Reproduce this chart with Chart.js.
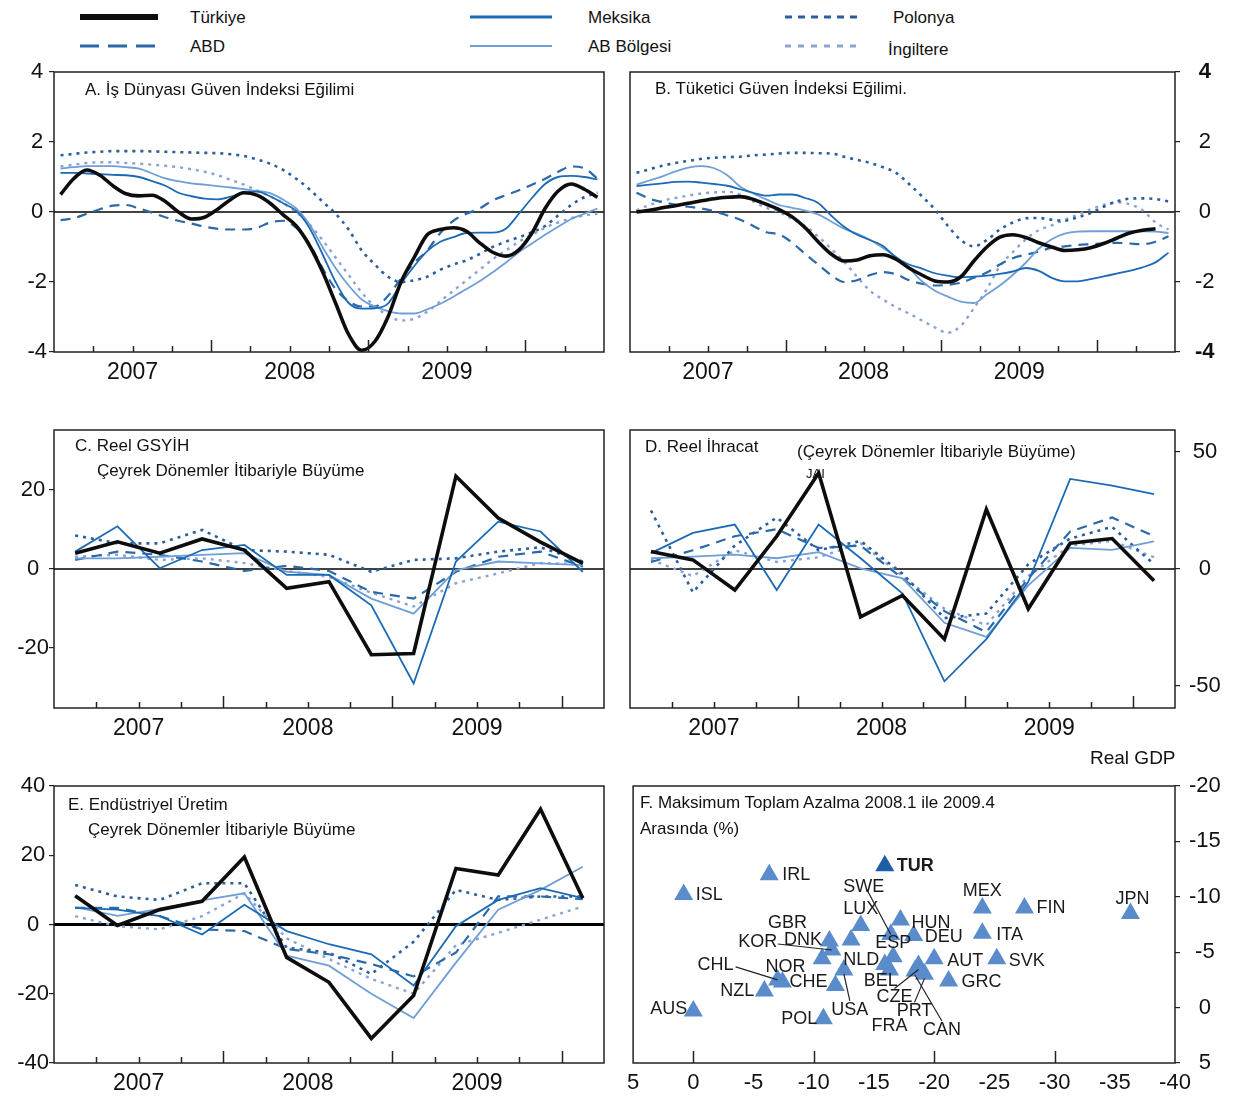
<!DOCTYPE html>
<html lang="tr">
<head>
<meta charset="utf-8">
<title>Güven endeksleri ve büyüme</title>
<script src="https://cdn.jsdelivr.net/npm/chart.js@4.4.1/dist/chart.umd.min.js"></script>
<style>
  body { margin: 0; background: #fff; font-family: "Liberation Sans", Arial, sans-serif; color: #111; }
  #page { position: relative; width: 1249px; height: 1097px; overflow: hidden; }
  .panel { position: absolute; }
  .txt { position: absolute; font-size: 17px; white-space: nowrap; line-height: 1; color: #111; }
  svg text { font-family: "Liberation Sans", Arial, sans-serif; font-size: 17px; fill: #111; }
</style>
</head>
<body>
<div id="page">
  <svg width="1249" height="62" style="position:absolute;left:0;top:0">
    <line x1="80" y1="17" x2="158" y2="17" stroke="#0d0d0d" stroke-width="6"/>
    <text x="190" y="23">Türkiye</text>
    <line x1="80" y1="46" x2="156" y2="46" stroke="#2b69a8" stroke-width="3" stroke-dasharray="19 9"/>
    <text x="190" y="52">ABD</text>
    <line x1="470" y1="17" x2="552" y2="17" stroke="#1b6ab3" stroke-width="3"/>
    <text x="588" y="23">Meksika</text>
    <line x1="470" y1="46" x2="552" y2="46" stroke="#6f9fd6" stroke-width="2.2"/>
    <text x="588" y="52">AB Bölgesi</text>
    <line x1="785" y1="17" x2="862" y2="17" stroke="#2c5e9c" stroke-width="3" stroke-dasharray="7 6"/>
    <text x="893" y="23">Polonya</text>
    <line x1="785" y1="46" x2="862" y2="46" stroke="#8aa3d2" stroke-width="3" stroke-dasharray="6 7"/>
    <text x="888" y="55">İngiltere</text>
  </svg>

  <div class="panel" style="left:0;top:55px"><canvas id="chA" width="620" height="340"></canvas></div>
  <div class="panel" style="left:620px;top:55px"><canvas id="chB" width="629" height="340"></canvas></div>
  <div class="panel" style="left:0;top:415px"><canvas id="chC" width="620" height="340"></canvas></div>
  <div class="panel" style="left:620px;top:415px"><canvas id="chD" width="629" height="340"></canvas></div>
  <div class="panel" style="left:0;top:770px"><canvas id="chE" width="620" height="327"></canvas></div>
  <div class="panel" style="left:620px;top:770px"><canvas id="chF" width="629" height="327"></canvas></div>

  <div class="txt" style="left:85px;top:81px">A. İş Dünyası Güven İndeksi Eğilimi</div>
  <div class="txt" style="left:655px;top:80px">B. Tüketici Güven İndeksi Eğilimi.</div>
  <div class="txt" style="left:75px;top:437px">C. Reel GSYİH</div>
  <div class="txt" style="left:97px;top:462px">Çeyrek Dönemler İtibariyle Büyüme</div>
  <div class="txt" style="left:645px;top:438px">D. Reel İhracat</div>
  <div class="txt" style="left:797px;top:443px">(Çeyrek Dönemler İtibariyle Büyüme)</div>
  <div class="txt" style="left:806px;top:467px;font-size:13px">JAI</div>
  <div class="txt" style="left:1090px;top:748px;font-size:19px">Real GDP</div>
  <div class="txt" style="left:68px;top:796px">E. Endüstriyel Üretim</div>
  <div class="txt" style="left:88px;top:821px">Çeyrek Dönemler İtibariyle Büyüme</div>
  <div class="txt" style="left:640px;top:794px">F. Maksimum Toplam Azalma 2008.1 ile 2009.4</div>
  <div class="txt" style="left:640px;top:820px">Arasında (%)</div>
</div>

<script>
// eksen etiketleri
const yearLabels = ["2007", "2008", "2009"];

// A. İş dünyası güven endeksi (aylık, Oca 2007 - Haz 2010)
const aTurkiye = [0.5, 0.95, 1.2, 1.05, 0.75, 0.52, 0.46, 0.48, 0.3, 0.0, -0.2, -0.15, 0.08, 0.36, 0.55, 0.48, 0.25, -0.08, -0.4, -0.95, -1.7, -2.6, -3.5, -3.95, -3.7, -3.0, -2.0, -1.3, -0.65, -0.5, -0.45, -0.55, -0.88, -1.15, -1.26, -1.08, -0.6, 0.1, 0.6, 0.8, 0.65, 0.42];
const aMeksika = [1.12, 1.12, 1.1, 1.08, 1.06, 1.05, 1.0, 0.88, 0.75, 0.55, 0.45, 0.38, 0.36, 0.44, 0.56, 0.58, 0.45, 0.25, 0.03, -0.45, -1.2, -2.0, -2.6, -2.76, -2.75, -2.62, -2.05, -1.55, -1.12, -0.85, -0.72, -0.6, -0.59, -0.59, -0.48, -0.05, 0.4, 0.8, 1.0, 1.03, 1.0, 0.93];
const aAB = [1.24, 1.28, 1.31, 1.31, 1.31, 1.28, 1.24, 1.1, 0.96, 0.88, 0.82, 0.78, 0.74, 0.7, 0.65, 0.6, 0.54, 0.35, 0.1, -0.35, -1.0, -1.6, -2.1, -2.5, -2.7, -2.83, -2.9, -2.9, -2.78, -2.62, -2.42, -2.2, -1.98, -1.72, -1.45, -1.15, -0.9, -0.65, -0.42, -0.2, -0.05, 0.1];
const aABD = [-0.23, -0.18, -0.05, 0.08, 0.18, 0.2, 0.1, -0.02, -0.15, -0.25, -0.33, -0.42, -0.48, -0.5, -0.5, -0.45, -0.3, -0.25, -0.45, -0.9, -1.6, -2.2, -2.55, -2.7, -2.7, -2.4, -1.9, -1.45, -1.1, -0.6, -0.25, -0.05, 0.1, 0.33, 0.48, 0.62, 0.78, 0.95, 1.15, 1.3, 1.25, 0.95];
const aPolonya = [1.62, 1.66, 1.7, 1.72, 1.74, 1.74, 1.74, 1.73, 1.72, 1.71, 1.7, 1.69, 1.68, 1.65, 1.6, 1.5, 1.38, 1.2, 0.95, 0.65, 0.3, -0.05, -0.5, -1.1, -1.5, -1.85, -2.0, -1.95, -1.85, -1.65, -1.5, -1.38, -1.2, -1.0, -0.85, -0.72, -0.58, -0.4, -0.1, 0.2, 0.42, 0.55];
const aIngiltere = [1.3, 1.35, 1.4, 1.42, 1.42, 1.4, 1.38, 1.35, 1.32, 1.28, 1.22, 1.15, 1.05, 0.92, 0.78, 0.62, 0.45, 0.25, 0.0, -0.35, -0.8, -1.3, -1.8, -2.3, -2.7, -2.95, -3.1, -3.05, -2.85, -2.55, -2.25, -1.95, -1.65, -1.35, -1.1, -0.85, -0.65, -0.45, -0.3, -0.18, -0.1, -0.05];

// B. Tüketici güven endeksi (aylık)
const bTurkiye = [0.0, 0.05, 0.12, 0.18, 0.25, 0.32, 0.38, 0.42, 0.44, 0.36, 0.22, 0.07, -0.14, -0.45, -0.85, -1.2, -1.4, -1.37, -1.25, -1.22, -1.35, -1.6, -1.8, -1.97, -2.0, -1.85, -1.4, -1.0, -0.72, -0.65, -0.73, -0.88, -1.0, -1.1, -1.08, -1.02, -0.9, -0.75, -0.6, -0.52, -0.48, null];
const bMeksika = [0.74, 0.78, 0.82, 0.86, 0.87, 0.84, 0.8, 0.75, 0.65, 0.55, 0.47, 0.5, 0.5, 0.4, 0.26, -0.1, -0.42, -0.65, -0.8, -0.97, -1.3, -1.5, -1.62, -1.75, -1.82, -1.87, -1.85, -1.82, -1.77, -1.7, -1.6, -1.68, -1.88, -1.98, -1.98, -1.92, -1.84, -1.76, -1.68, -1.58, -1.44, -1.16];
const bAB = [0.78, 0.9, 1.02, 1.16, 1.27, 1.31, 1.25, 1.05, 0.72, 0.53, 0.36, 0.2, 0.12, 0.04, -0.07, -0.27, -0.48, -0.62, -0.8, -1.03, -1.28, -1.6, -1.98, -2.25, -2.42, -2.56, -2.6, -2.35, -2.1, -1.8, -1.45, -1.05, -0.78, -0.62, -0.56, -0.55, -0.55, -0.55, -0.55, -0.55, -0.56, -0.6];
const bABD = [0.55, 0.38, 0.28, 0.21, 0.15, 0.1, 0.02, -0.1, -0.22, -0.4, -0.58, -0.64, -0.88, -1.2, -1.5, -1.8, -2.0, -1.95, -1.8, -1.72, -1.78, -1.95, -2.05, -2.1, -2.08, -2.02, -1.88, -1.73, -1.5, -1.32, -1.22, -1.13, -1.02, -0.98, -0.94, -0.92, -0.9, -0.88, -0.9, -0.92, -0.85, -0.69];
const bPolonya = [1.12, 1.22, 1.32, 1.4, 1.46, 1.52, 1.55, 1.57, 1.58, 1.62, 1.64, 1.67, 1.69, 1.69, 1.68, 1.67, 1.58, 1.49, 1.4, 1.28, 1.12, 0.8, 0.45, 0.07, -0.4, -0.8, -0.98, -0.8, -0.5, -0.3, -0.18, -0.17, -0.22, -0.25, -0.15, -0.03, 0.15, 0.3, 0.38, 0.39, 0.37, 0.3];
const bIngiltere = [0.05, 0.2, 0.32, 0.4, 0.47, 0.53, 0.56, 0.58, 0.5, 0.3, 0.12, 0.0, -0.2, -0.4, -0.7, -1.05, -1.42, -1.85, -2.25, -2.5, -2.72, -2.9, -3.1, -3.3, -3.45, -3.25, -2.75, -2.2, -1.55, -1.15, -0.78, -0.52, -0.38, -0.22, -0.08, 0.08, 0.2, 0.28, 0.22, 0.05, -0.3, -0.5];

// C. Reel GSYİH (çeyreklik, 2007Ç1 - 2010Ç1)
const cTurkiye = [4.0, 6.9, 4.0, 7.6, 4.8, -4.9, -3.2, -21.7, -21.4, 23.5, 12.9, 6.8, 1.4];
const cMeksika = [4.4, 10.8, 0.2, 4.8, 6.1, -1.5, -1.5, -9.2, -29, 1.9, 12.0, 9.5, -0.7];
const cAB = [2.7, 2.7, 3.1, 3.6, 4.0, -0.7, -1.5, -7.5, -11.3, -0.3, 1.9, 1.4, 1.0];
const cABD = [2.3, 4.4, 3.6, 1.9, -0.5, 0.8, -0.5, -5.8, -7.5, -0.7, 3.1, 4.4, 0.6];
const cPolonya = [8.5, 6.5, 6.5, 9.9, 4.8, 4.4, 3.6, -0.7, 2.3, 2.7, 4.4, 5.5, 1.9];
const cIngiltere = [3.1, 3.6, 2.3, 2.7, 1.5, -0.5, -2.0, -6.0, -9.5, -3.6, -1.1, 1.5, 1.2];

// D. Reel ihracat (çeyreklik)
const dTurkiye = [7.5, 3.9, -9, 14, 41, -20.5, -11.3, -30, 25.5, -17, 11, 13, -5];
const dMeksika = [6.8, 15.4, 19, -9, 19, 4.6, -10.5, -48, -30, -5.5, 38.5, 35.6, 32];
const dAB = [4.6, 5.3, 6.1, 4.6, 7.2, 0.3, -4, -23, -29, -7, 9, 8.2, 11.8];
const dABD = [3, 8, 14, 17, 9, 10, -4, -18, -27, -4, 16, 22, 14];
const dPolonya = [25, -10, 10, 22, 8, 12, -2, -21, -19, 2, 13, 18, 2];
const dIngiltere = [4, -3, 8, 3, 5, 11, -3, -17, -24, -3, 10, 12, 5];

// E. Endüstriyel üretim (çeyreklik)
const eTurkiye = [8.3, -0.3, 4.3, 6.7, 19.5, -9.5, -16.7, -32.9, -20.5, 16.2, 14.3, 33.3, 7.6];
const eMeksika = [4.8, 4.3, 2.4, -2.9, 5.7, -1.9, -5.7, -8.6, -17.6, -0.5, 7.1, 10.5, 7.6];
const eAB = [5.0, 2.5, 4.5, 7.0, 9.0, -9.0, -11.9, -20, -27, -11, 4.3, 10, 16.7];
const eABD = [4.8, 4.8, 2.4, -1.4, -1.9, -7.1, -8.6, -11.4, -15, -8.1, 8.1, 8.1, 7.3];
const ePolonya = [11.4, 8.1, 7.1, 11.9, 11.9, -6.7, -8.1, -14.3, -5, 10, 7.1, 8.1, 8.1];
const eIngiltere = [2.4, -0.5, -1.4, 2.4, 9, -4, -10, -15.7, -20, -6, -2.4, 1.4, 5.2];

// F. 2008.1 - 2009.4 arası maksimum toplam azalma
const countries = ["ISL", "IRL", "TUR", "MEX", "FIN", "JPN", "LUX", "SWE", "HUN", "DEU", "ITA", "DNK", "GBR", "KOR", "NLD", "ESP", "BEL", "FRA", "CZE", "PRT", "CAN", "AUT", "SVK", "GRC", "USA", "CHE", "NOR", "CHL", "NZL", "AUS", "POL"];
const dropX = [0.8, -6.3, -15.9, -24.0, -27.5, -36.3, -13.9, -16.4, -17.2, -18.3, -24.0, -13.1, -11.3, -11.5, -10.7, -16.6, -15.9, -16.3, -18.7, -19.2, -18.4, -20.0, -25.2, -21.2, -12.5, -11.8, -7.4, -7.0, -5.9, 0.0, -10.8];
const gdpY = [-10.2, -12.0, -12.8, -9.0, -9.0, -8.5, -7.4, -6.6, -7.9, -6.5, -6.7, -6.1, -6.0, -5.2, -4.4, -4.6, -3.9, -3.4, -3.8, -3.0, -3.3, -4.4, -4.4, -2.4, -3.4, -2.0, -2.3, -2.5, -1.5, 0.3, 1.0];

// etiket yerleşimi: [dx, dy, hizalama, çizgi]
const tagPos = {
  ISL: [12, 0, "left"], IRL: [13, 0, "left"], TUR: [12, 0, "left"], MEX: [0, -17, "center"],
  FIN: [12, 0, "left"], JPN: [2, -14, "center"], LUX: [0, -17, "center"], SWE: [-27, -47, "center", true],
  HUN: [11, 3, "left"], DEU: [11, 1, "left"], ITA: [14, 2, "left"], DNK: [-29, 0, "right"],
  GBR: [-42, -18, "center"], KOR: [-74, -8, "center", true], NLD: [21, 1, "left"], ESP: [0, -14, "center"],
  BEL: [-4, 17, "center"], FRA: [0, 56, "center"], CZE: [-24, 32, "center", true], PRT: [-10, 37, "center", true],
  CAN: [27, 59, "center", true], AUT: [13, 2, "left"], SVK: [12, 2, "left"], GRC: [13, 1, "left"],
  USA: [6, 40, "center", true], CHE: [-8, -3, "right"], NOR: [3, -15, "center"], CHL: [-62, -15, "center", true],
  NZL: [-10, 0, "right"], AUS: [-6, -2, "right"], POL: [-6, 0, "right"]
};

const FONT = '"Liberation Sans", Arial, sans-serif';
Chart.defaults.font.family = FONT;
Chart.defaults.color = "#111";
Chart.defaults.animation = false;
Chart.defaults.plugins.legend.display = false;
Chart.defaults.plugins.tooltip.enabled = false;

const styles = [
  { label: "Türkiye", color: "#0d0d0d", width: 3.6, dash: [] },
  { label: "Meksika", color: "#1b6ab3", width: 1.8, dash: [] },
  { label: "AB Bölgesi", color: "#6f9fd6", width: 1.8, dash: [] },
  { label: "ABD", color: "#2b69a8", width: 2.2, dash: [10, 7] },
  { label: "Polonya", color: "#2c5e9c", width: 2.6, dash: [3, 5] },
  { label: "İngiltere", color: "#8aa3d2", width: 2.4, dash: [3, 5] }
];

// çerçeve, sıfır çizgisi ve çeyrek işaretleri
const frame = {
  id: "frame",
  beforeDatasetsDraw(chart, args, opts) {
    if (!opts.zero) return;
    const { ctx, chartArea: a, scales } = chart;
    const y0 = scales.y.getPixelForValue(0);
    ctx.save();
    ctx.strokeStyle = "#000";
    ctx.lineWidth = opts.zero;
    ctx.beginPath();
    ctx.moveTo(a.left, y0);
    ctx.lineTo(a.right, y0);
    ctx.stroke();
    ctx.restore();
  },
  afterDatasetsDraw(chart, args, opts) {
    const { ctx, chartArea: a, scales } = chart;
    ctx.save();
    ctx.strokeStyle = "#222";
    ctx.lineWidth = 1.5;
    ctx.strokeRect(a.left, a.top, a.right - a.left, a.bottom - a.top);
    (opts.marks || []).forEach(m => {
      const px = Math.round(scales.x.getPixelForValue(m.v)) + 0.5;
      ctx.beginPath();
      ctx.moveTo(px, a.bottom);
      ctx.lineTo(px, a.bottom - (m.big ? 12 : 6));
      ctx.stroke();
    });
    ctx.restore();
  }
};

// dikey eksen: sabit genişlik, etiket payı yerleşimi bozmasın
function fixY(width) {
  return s => { s.width = width; s.paddingTop = 0; s.paddingBottom = 0; };
}

function quarterMarks(n, step, perYear) {
  const out = [];
  for (let k = step; k < n; k += step) out.push({ v: k - 0.5, big: k % perYear === 0 });
  return out;
}

function lineChart(id, series, cfg) {
  const n = series[0].length;
  const perYear = cfg.monthly ? 12 : 4;
  const yearCenters = yearLabels.map((_, i) => i * perYear + perYear / 2 - 0.5);
  const datasets = series.map((vals, i) => ({
    label: styles[i].label,
    data: vals.map((v, j) => ({ x: j, y: v })),
    borderColor: styles[i].color,
    borderWidth: styles[i].width,
    borderDash: styles[i].dash,
    pointRadius: 0,
    tension: cfg.monthly ? 0.4 : 0,
    cubicInterpolationMode: cfg.monthly ? "monotone" : "default",
    fill: false
  }));
  return new Chart(document.getElementById(id), {
    type: "line",
    data: { datasets },
    options: {
      responsive: false,
      layout: { padding: cfg.pad },
      scales: {
        x: {
          type: "linear", min: -0.5, max: n - 0.5,
          afterBuildTicks: s => { s.ticks = yearCenters.map(v => ({ value: v })); },
          afterFit: s => { s.height = cfg.xH; },
          ticks: {
            autoSkip: false, maxRotation: 0, padding: 7, font: { size: 23 }, color: "#111",
            callback: v => yearLabels[yearCenters.indexOf(v)]
          },
          grid: { display: false, drawTicks: false },
          border: { display: false }
        },
        y: {
          position: cfg.side, min: cfg.min, max: cfg.max,
          afterBuildTicks: s => { s.ticks = cfg.yTicks.map(v => ({ value: v })); },
          afterFit: fixY(cfg.yW),
          ticks: {
            autoSkip: false, padding: cfg.tickPad, crossAlign: "center", color: "#111",
            font: cfg.yFont || { size: 22 }
          },
          grid: { drawOnChartArea: false, drawTicks: true, tickLength: 5, color: "#222", lineWidth: 1.2 },
          border: { display: false }
        }
      },
      plugins: {
        frame: { zero: cfg.zero, marks: quarterMarks(n, cfg.monthly ? 3 : 1, perYear) }
      }
    },
    plugins: [frame]
  });
}

lineChart("chA", [aTurkiye, aMeksika, aAB, aABD, aPolonya, aIngiltere], {
  monthly: true, side: "left", min: -4, max: 4, yTicks: [-4, -2, 0, 2, 4],
  pad: { left: 0, right: 16, top: 17, bottom: 0 }, yW: 54, xH: 43, tickPad: 2, zero: 1.3
});
lineChart("chB", [bTurkiye, bMeksika, bAB, bABD, bPolonya, bIngiltere], {
  monthly: true, side: "right", min: -4, max: 4, yTicks: [-4, -2, 0, 2, 4],
  pad: { left: 10, right: 34, top: 17, bottom: 0 }, yW: 40, xH: 43, tickPad: 15, zero: 1.3,
  yFont: c => ({ size: 22, weight: (c && c.tick && Math.abs(c.tick.value) === 4) ? "bold" : "normal" })
});
lineChart("chC", [cTurkiye, cMeksika, cAB, cABD, cPolonya, cIngiltere], {
  monthly: false, side: "left", min: -35.2, max: 35.2, yTicks: [-20, 0, 20],
  pad: { left: 0, right: 16, top: 15, bottom: 0 }, yW: 54, xH: 47, tickPad: 0, zero: 1.3
});
lineChart("chD", [dTurkiye, dMeksika, dAB, dABD, dPolonya, dIngiltere], {
  monthly: false, side: "right", min: -59.4, max: 59.4, yTicks: [-50, 0, 50],
  pad: { left: 10, right: 28, top: 15, bottom: 0 }, yW: 46, xH: 47, tickPad: 9, zero: 1.3
});
lineChart("chE", [eTurkiye, eMeksika, eAB, eABD, ePolonya, eIngiltere], {
  monthly: false, side: "left", min: -40, max: 40, yTicks: [-40, -20, 0, 20, 40],
  pad: { left: 0, right: 16, top: 16, bottom: 0 }, yW: 54, xH: 34, tickPad: 0, zero: 3
});

// ülke etiketleri
const tags = {
  id: "tags",
  afterDatasetsDraw(chart) {
    const { ctx, scales: { x, y } } = chart;
    ctx.save();
    ctx.textBaseline = "middle";
    ctx.strokeStyle = "#222";
    ctx.lineWidth = 1.2;
    countries.forEach((c, i) => {
      const px = x.getPixelForValue(dropX[i]);
      const py = y.getPixelForValue(gdpY[i]);
      const [dx, dy, align, leader] = tagPos[c];
      const tx = px + dx, ty = py + dy;
      if (leader) {
        const sy = dy > 0 ? ty - 9 : ty + 2;
        const sx = dy > 0 ? tx : (dx < -40 ? tx + 20 : tx + 3);
        ctx.beginPath();
        ctx.moveTo(sx, sy);
        ctx.lineTo(px, py + (dy > 0 ? 4 : 0));
        ctx.stroke();
      }
      ctx.font = (c === "TUR" ? "bold " : "") + "18px " + FONT;
      ctx.fillStyle = "#1a1a1a";
      ctx.textAlign = align;
      ctx.fillText(c, tx, ty);
    });
    ctx.restore();
  }
};

new Chart(document.getElementById("chF"), {
  type: "scatter",
  data: {
    datasets: [{
      label: "Real GDP",
      data: countries.map((c, i) => ({ x: dropX[i], y: gdpY[i] })),
      pointStyle: "triangle",
      pointRadius: 11,
      backgroundColor: countries.map(c => c === "TUR" ? "#1d5ea6" : "#5a8bcb"),
      borderColor: countries.map(c => c === "TUR" ? "#1d5ea6" : "#5a8bcb"),
      borderWidth: 0
    }]
  },
  options: {
    responsive: false,
    layout: { padding: { left: 10, right: 28, top: 16, bottom: 0 } },
    scales: {
      x: {
        type: "linear", min: -40, max: 5, reverse: true,
        afterFit: s => { s.height = 34; },
        ticks: { stepSize: 5, autoSkip: false, maxRotation: 0, padding: 7, font: { size: 22 }, color: "#111" },
        grid: { display: false, drawTicks: false },
        border: { display: false }
      },
      y: {
        type: "linear", position: "right", min: -20, max: 5, reverse: true,
        afterFit: fixY(46),
        ticks: { stepSize: 5, autoSkip: false, padding: 9, crossAlign: "center", font: { size: 22 }, color: "#111" },
        grid: { drawOnChartArea: false, drawTicks: true, tickLength: 5, color: "#222", lineWidth: 1.2 },
        border: { display: false }
      }
    },
    plugins: {
      frame: { zero: 0, marks: [0, -10, -20, -30].map(v => ({ v, big: true })) }
    }
  },
  plugins: [frame, tags]
});
</script>
</body>
</html>
